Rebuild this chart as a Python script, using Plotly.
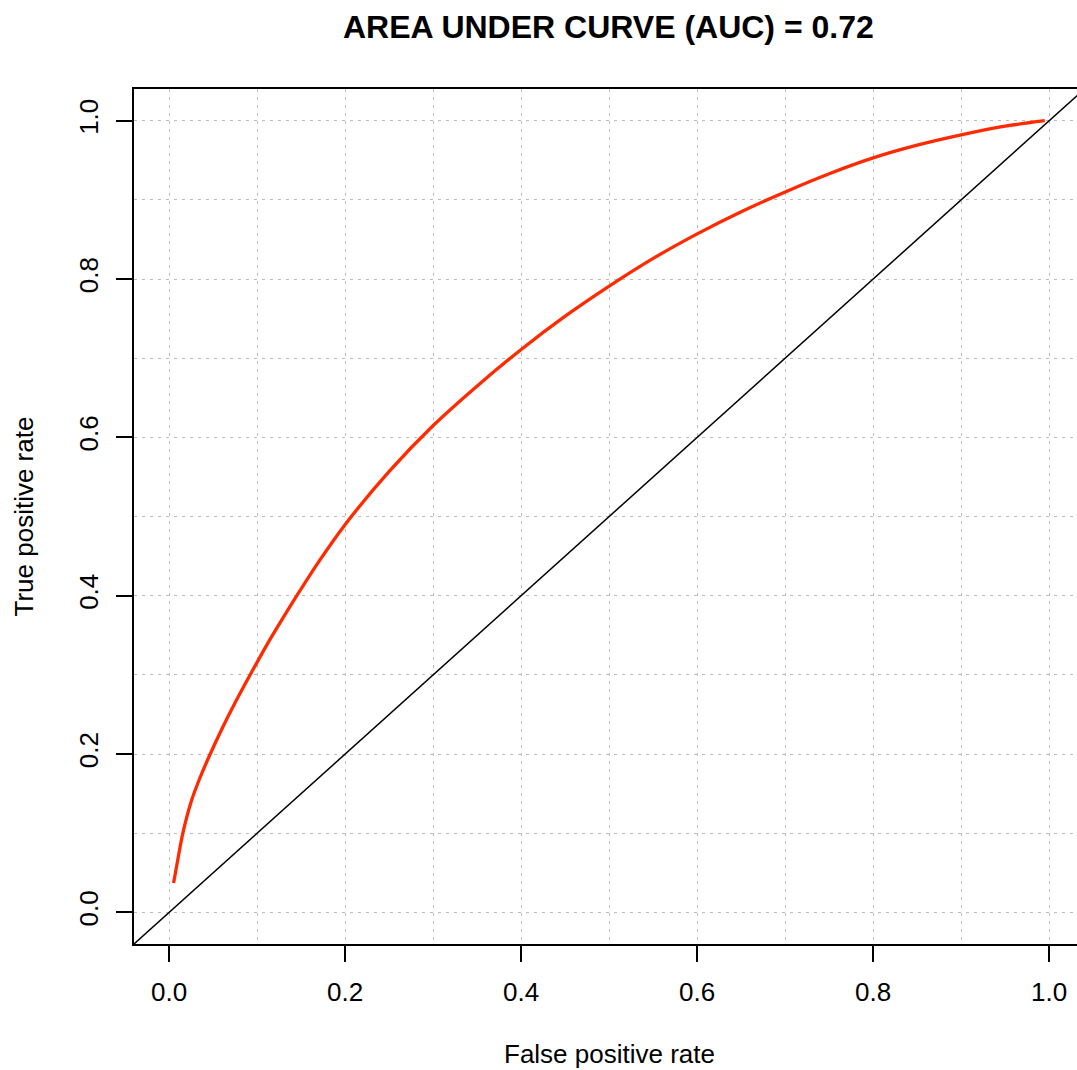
import plotly.graph_objects as go

# ROC curve values
fpr = [0.005, 0.01, 0.0155, 0.025, 0.035, 0.0466, 0.06, 0.075, 0.092, 0.11, 0.125,
       0.145, 0.17, 0.2, 0.25, 0.3, 0.35, 0.4, 0.45, 0.5, 0.55, 0.6, 0.65, 0.7,
       0.75, 0.8, 0.85, 0.9, 0.95, 0.995]
tpr = [0.037, 0.068, 0.10, 0.140, 0.170, 0.20, 0.232, 0.265, 0.30, 0.336, 0.364,
       0.40, 0.443, 0.49, 0.557, 0.615, 0.665, 0.711, 0.753, 0.791, 0.826, 0.857, 0.885, 0.91,
       0.933, 0.953, 0.969, 0.982, 0.993, 1.0]

# chance (diagonal) line y = x
diag_x = [-0.1, 1.1]
diag_y = [-0.1, 1.1]

tick_vals = [0.0, 0.2, 0.4, 0.6, 0.8, 1.0]
tick_text = ["0.0", "0.2", "0.4", "0.6", "0.8", "1.0"]

title_text = "AREA UNDER CURVE (AUC) = 0.72"
x_title = "False positive rate"
y_title = "True positive rate"

FONT = "Liberation Sans, Arial, Helvetica, sans-serif"
GRID = "#bdbdbd"

fig = go.Figure()
fig.add_trace(go.Scatter(x=diag_x, y=diag_y, mode="lines",
                         line=dict(color="black", width=1.5), hoverinfo="skip"))
fig.add_trace(go.Scatter(x=fpr, y=tpr, mode="lines",
                         line=dict(color="#FF2A00", width=3.3, shape="spline", smoothing=0.8)))

axis_common = dict(
    tickmode="array", tickvals=tick_vals, ticktext=tick_text,
    ticks="outside", ticklen=16, tickwidth=1.5, tickcolor="black",
    tickfont=dict(family=FONT, size=26, color="black"),
    showgrid=True, gridcolor=GRID, gridwidth=1, griddash="3px,5px",
    zeroline=False, showline=True, linecolor="black", linewidth=1.5,
    minor=dict(dtick=0.1, tick0=0, showgrid=True, gridcolor=GRID, gridwidth=1,
               griddash="3px,5px", ticks=""),
)

fig.update_xaxes(range=[-0.04, 1.0316], mirror=True, ticklabelstandoff=8, **axis_common)
fig.update_yaxes(range=[-0.04, 1.04], mirror=False, tickangle=-90, ticklabelstandoff=8,
                 **axis_common)

fig.add_annotation(text="<b>" + title_text + "</b>", xref="paper", yref="paper",
                   x=0.503, y=1.0725, showarrow=False, xanchor="center", yanchor="middle",
                   font=dict(family=FONT, size=32, color="black"))
fig.add_annotation(text=x_title, xref="paper", yref="paper",
                   x=0.504, y=-0.1287, showarrow=False, xanchor="center", yanchor="middle",
                   font=dict(family=FONT, size=26, color="black"))
fig.add_annotation(text=y_title, xref="paper", yref="paper", textangle=-90,
                   x=-0.1177, y=0.5, showarrow=False, xanchor="center", yanchor="middle",
                   font=dict(family=FONT, size=26, color="black"))

fig.update_layout(width=1077, height=1070, showlegend=False,
                  margin=dict(l=134, r=0, t=89, b=126),
                  paper_bgcolor="white", plot_bgcolor="white")

fig.write_html("out.html")
